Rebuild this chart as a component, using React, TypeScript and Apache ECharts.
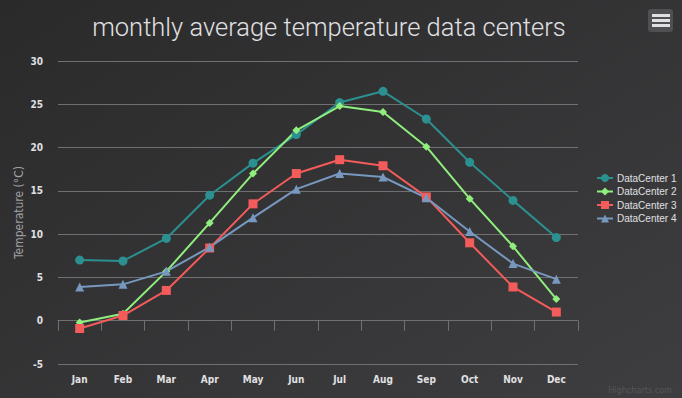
import React, { useEffect, useRef } from "react";
import * as echarts from "echarts";

const months = ["Jan", "Feb", "Mar", "Apr", "May", "Jun", "Jul", "Aug", "Sep", "Oct", "Nov", "Dec"];
const seriesNames = ["DataCenter 1", "DataCenter 2", "DataCenter 3", "DataCenter 4"];
const dc1 = [7.0, 6.9, 9.5, 14.5, 18.2, 21.5, 25.2, 26.5, 23.3, 18.3, 13.9, 9.6];
const dc2 = [-0.2, 0.8, 5.7, 11.3, 17.0, 22.0, 24.8, 24.1, 20.1, 14.1, 8.6, 2.5];
const dc3 = [-0.9, 0.6, 3.5, 8.4, 13.5, 17.0, 18.6, 17.9, 14.3, 9.0, 3.9, 1.0];
const dc4 = [3.9, 4.2, 5.7, 8.5, 11.9, 15.2, 17.0, 16.6, 14.2, 10.3, 6.6, 4.8];
const seriesData = [dc1, dc2, dc3, dc4];
const colors = ["#2b908f", "#90ee7e", "#f45b5b", "#7798BF"];
const symbols = ["circle", "diamond", "rect", "triangle"];
const symbolSizes = [9, 8, 9, 9];

const labelFont = "'DejaVu Sans Condensed', 'Liberation Sans Narrow', sans-serif";

export default function App() {
  const ref = useRef<HTMLDivElement>(null);
  useEffect(() => {
    if (!ref.current) return;
    const chart = echarts.init(ref.current, undefined, { renderer: "svg" });
    chart.setOption({
      animation: false,
      backgroundColor: new echarts.graphic.LinearGradient(0, 0, 1, 1, [
        { offset: 0, color: "#2a2a2b" },
        { offset: 1, color: "#3e3e40" },
      ]),
      title: {
        text: "monthly average temperature data centers",
        left: 324,
        textAlign: "center",
        top: 9,
        textStyle: {
          color: "#E0E0E3",
          fontFamily: "Roboto",
          fontWeight: 300,
          fontSize: 25.5,
        },
      },
      legend: {
        orient: "vertical",
        left: 591,
        top: 168,
        itemGap: 3.5,
        itemWidth: 16,
        itemHeight: 10,
        data: seriesNames,
        textStyle: { color: "#E0E0E3", fontSize: 10, fontFamily: "'Liberation Sans', Arial, sans-serif", padding: [0, 0, 0, -1] },
      },
      grid: { left: 58, right: 104, top: 61, bottom: 34, outerBoundsMode: "none", containLabel: false },
      xAxis: {
        type: "category",
        data: months,
        boundaryGap: true,
        axisLine: { lineStyle: { color: "#707073", width: 1 } },
        axisTick: { show: true, length: 10, lineStyle: { color: "#707073" } },
        axisLabel: {
          color: "#E0E0E3",
          fontSize: 10,
          fontWeight: "bold",
          fontFamily: labelFont,
          margin: 10,
        },
        splitLine: { show: false },
      },
      yAxis: {
        type: "value",
        min: -5,
        max: 30,
        interval: 5,
        name: "Temperature (°C)",
        nameLocation: "middle",
        nameMoveOverlap: false,
        nameGap: 33,
        nameTextStyle: { color: "#A0A0A3", fontSize: 12, fontFamily: labelFont },
        axisLine: { show: false },
        axisTick: { show: false },
        axisLabel: {
          color: "#E0E0E3",
          fontSize: 10,
          fontWeight: "bold",
          fontFamily: labelFont,
          margin: 15,
        },
        splitLine: { lineStyle: { color: "#707073", width: 1 } },
      },
      series: seriesNames.map((name, i) => ({
        name,
        type: "line",
        data: seriesData[i],
        symbol: symbols[i],
        symbolSize: symbolSizes[i],
        showAllSymbol: true,
        itemStyle: { color: colors[i] },
        lineStyle: { color: colors[i], width: 2 },
      })),
      graphic: [
        {
          type: "rect",
          left: 648,
          top: 9,
          shape: { width: 25, height: 23, r: 3 },
          style: { fill: "#505053" },
        },
        { type: "rect", left: 652, top: 14, shape: { width: 18, height: 3 }, style: { fill: "#E0E0E3" } },
        { type: "rect", left: 652, top: 19, shape: { width: 18, height: 3 }, style: { fill: "#E0E0E3" } },
        { type: "rect", left: 652, top: 24, shape: { width: 18, height: 3 }, style: { fill: "#E0E0E3" } },
        {
          type: "text",
          right: 10,
          top: 385,
          style: {
            text: "Highcharts.com",
            fill: "#555558",
            fontSize: 9,
            fontFamily: labelFont,
          },
        },
      ],
    });
    return () => chart.dispose();
  }, []);
  return (
    <div
      ref={ref}
      style={{ position: "fixed", left: 0, top: 0, width: 682, height: 398 }}
    />
  );
}
